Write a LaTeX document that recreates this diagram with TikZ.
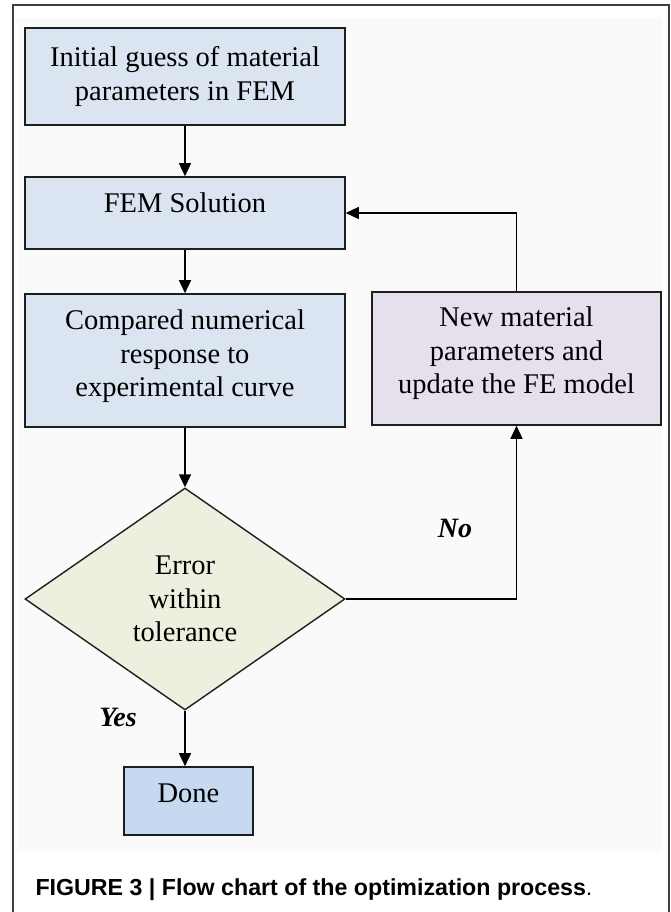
\documentclass[tikz,border=0pt]{standalone}
\usepackage{fontspec}
\setmainfont{Liberation Serif}
\newfontfamily\capfont{Liberation Sans}
\usetikzlibrary{shapes.geometric,arrows.meta}
\definecolor{boxblue}{HTML}{DBE5F1}
\definecolor{boxlilac}{HTML}{E5E0EC}
\definecolor{boxgreen}{HTML}{EBF1DE}
\definecolor{doneblue}{HTML}{C6D9F1}
\definecolor{edgegray}{HTML}{1E1E1E}

\begin{document}
\begin{tikzpicture}[x=1pt,y=-1pt,
  every node/.style={font=\fontsize{28.5}{33.5}\selectfont},
  stepbox/.style={draw=edgegray,line width=1.6pt,fill=boxblue,inner sep=0pt,align=center},
  testbox/.style={diamond,draw=edgegray,line width=1.4pt,fill=boxgreen,inner sep=0pt,align=center,
    minimum width=320pt,minimum height=222pt},
  flow/.style={line width=1.5pt,-{Triangle[length=13pt,width=12pt]}},
  answer/.style={font=\fontsize{28}{30}\selectfont\bfseries\itshape}]
\useasboundingbox (0,0) rectangle (671,912);
\fill[black!2] (17,18) rectangle (662,852);
\draw[black!75,line width=1.4pt] (13,912) -- (13,5) -- (669,5) -- (669,912);
% boxes
\node[stepbox,minimum width=320pt,minimum height=97pt] (init) at (185,76.5)
  {Initial guess of material\\parameters in FEM};
\node[stepbox,minimum width=320pt,minimum height=72pt,text depth=21pt] (fem) at (185,213)
  {FEM Solution};
\node[stepbox,minimum width=320pt,minimum height=133pt,text depth=14pt] (cmp) at (185,360.5)
  {Compared numerical\\response to\\experimental curve};
\node[stepbox,fill=boxlilac,minimum width=289pt,minimum height=133pt,text depth=16pt] (newp) at (516.5,358.5)
  {New material\\parameters and\\update the FE model};
\node[testbox] (err) at (185,599) {Error\\within\\tolerance};
\node[stepbox,fill=doneblue,minimum width=129pt,minimum height=68pt,text depth=15pt] (done) at (188.5,801)
  {Done};
% answers
\node[answer] (no) at (455,528) {No};
\node[answer] (yes) at (118,717) {Yes};
% arrows
\draw[flow] (init.south) -- (fem.north);
\draw[flow] (fem.south) -- (cmp.north);
\draw[flow] (cmp.south) -- (err.north);
\draw[flow] (err.east) -| (newp.south);
\draw[flow] (newp.north) |- (fem.east);
\draw[flow] (err.south) -- (err.south |- done.north);
% caption
\node[anchor=base west,font=\capfont\fontsize{23.2}{26}\selectfont\bfseries] (cap) at (32,895)
  {FIGURE 3 | Flow chart of the optimization process{\mdseries.}};
\end{tikzpicture}
\end{document}
